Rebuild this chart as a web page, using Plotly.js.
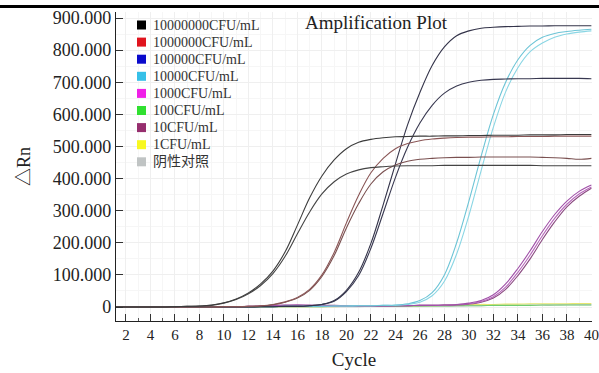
<!DOCTYPE html>
<html>
<head>
<meta charset="utf-8">
<script src="https://cdn.plot.ly/plotly-3.0.1.min.js"></script>
<style>html,body{margin:0;padding:0;background:#fff;}#chart{width:599px;height:373px;}</style>
</head>
<body>
<div id="chart"></div>
<script>
// ---- data ----
const cycles = [1,2,3,4,5,6,7,8,9,10,11,12,13,14,15,16,17,18,19,20,21,22,23,24,25,26,27,28,29,30,31,32,33,34,35,36,37,38,39,40];

const legendLabels = ["10000000CFU/mL","1000000CFU/mL","100000CFU/mL","10000CFU/mL","1000CFU/mL","100CFU/mL","10CFU/mL","1CFU/mL","阴性对照"];
const legendColors = ["#000000","#e0141e","#0a0acc","#36c0e8","#f020e8","#30e030","#962e6e","#f8f820","#c0c4c4"];

const black1 = [0,0,0,0,0,1,2,3, 6,13,25,44,72,112,172,255, 340,408,458,493,513,522,527,530, 531,532,532,533,533,534,534,535, 535,535,536,536,536,537,537,537];
const black2 = [0,0,0,0,0,1,2,3, 5,12,23,41,67,104,158,228, 296,352,390,414,427,434,437,439, 440,440,440,441,441,441,441,441, 441,441,441,440,440,440,440,440];
const red1   = [0,0,0,0,0,0,0,0, 0,1,1,2,4,8,16,30, 55,100,170,262,348,418,463,493, 509,518,523,526,528,529,529,530, 530,531,531,531,532,532,532,532];
const red2   = [0,0,0,0,0,0,0,0, 0,1,1,2,3,7,15,28, 52,95,160,246,322,383,421,442, 454,460,463,465,466,466,467,467, 467,467,467,466,465,463,460,463];
const blue1  = [0,0,0,0,0,0,0,0, 0,0,0,0,1,1,2,2, 4,8,20,52,108,198,318,445, 568,668,752,810,845,860,868,871, 873,874,875,875,876,876,876,876];
const blue2  = [0,0,0,0,0,0,0,0, 0,0,0,0,1,1,2,2, 4,8,18,48,98,183,292,403, 498,573,628,666,688,700,706,709, 710,711,711,712,712,712,712,711];
const cyan1  = [0,0,0,0,0,0,0,0, 0,0,1,1,1,1,2,2, 2,2,3,3,4,4,5,6, 10,20,45,100,200,330,470,600, 700,770,815,840,852,858,862,865];
const cyan2  = [0,0,0,0,0,0,0,0, 0,0,1,1,1,1,2,2, 2,2,3,3,4,4,5,5, 8,15,35,80,165,285,425,560, 670,745,795,822,840,850,856,860];
const mag1   = [0,0,0,0,0,0,0,0, 0,1,1,2,3,5,6,6, 5,4,3,3,3,3,3,4, 4,5,5,6,8,12,20,38, 72,120,175,235,288,330,360,380];
const mag2   = [0,0,0,0,0,0,0,0, 0,1,1,2,3,4,5,6, 5,4,3,3,3,3,3,4, 4,5,5,6,7,10,17,32, 62,108,162,222,276,320,352,374];
const purple1= [0,0,0,0,0,0,0,0, 0,0,1,1,2,3,4,5, 5,5,5,4,4,4,4,4, 4,5,5,6,6,9,15,28, 55,98,150,210,265,312,345,370];
const green1 = [0,0,0,0,0,0,0,0, 0,0,0,0,1,1,1,1, 1,1,2,2,2,2,2,2, 3,3,3,3,4,4,4,5, 5,5,5,6,6,6,6,6];
const yellow1= [0,0,0,0,0,0,0,0, 0,0,0,0,0,1,1,1, 1,1,1,2,2,2,2,3, 3,4,4,5,6,7,8,8, 9,9,10,10,10,10,11,11];
const gray1  = [0,0,0,0,0,0,0,0, 0,0,0,0,0,0,1,1, 1,1,1,1,1,2,2,2, 2,2,3,3,3,4,4,5, 5,5,6,6,6,7,7,7];

const yTickVals = [0,100,200,300,400,500,600,700,800,900];
const yTickText = ["0","100.000","200.000","300.000","400.000","500.000","600.000","700.000","800.000","900.000"];
const xTickVals = [2,4,6,8,10,12,14,16,18,20,22,24,26,28,30,32,34,36,38,40];

// ---- traces ----
const series = [
  {y: gray1,   c: "#b8c0c0"},
  {y: yellow1, c: "#e6e670"},
  {y: green1,  c: "#70cc70"},
  {y: purple1, c: "#8a4a80"},
  {y: mag2,    c: "#b868bc"},
  {y: mag1,    c: "#a050a8"},
  {y: cyan2,   c: "#8ad6e4"},
  {y: cyan1,   c: "#6cc4d6"},
  {y: blue2,   c: "#383850"},
  {y: blue1,   c: "#34344a"},
  {y: red2,    c: "#7a5050"},
  {y: red1,    c: "#8a5656"},
  {y: black2,  c: "#444444"},
  {y: black1,  c: "#3c3c3c"}
];
const traces = series.map(s => ({
  x: cycles, y: s.y, type: "scatter", mode: "lines",
  line: {color: s.c, width: 1.1, shape: "spline", smoothing: 1},
  showlegend: false, hoverinfo: "skip"
}));

// ---- layout helpers (pixel -> paper) ----
const W = 599, H = 373, ML = 116, MR = 7, MT = 12, MB = 52;
const PW = W - ML - MR, PH = H - MT - MB;
const px = x => (x - ML) / PW;
const py = y => 1 - (y - MT) / PH;

const FONT = "'Liberation Serif', 'Times New Roman', 'Noto Sans CJK SC', serif";
const shapes = [
  {type: "line", xref: "paper", yref: "paper", x0: px(0), x1: px(W), y0: py(6.5), y1: py(6.5), line: {color: "#000", width: 3}}
];
const annotations = [];
legendLabels.forEach((lab, k) => {
  const cy = 25 + 17.1 * k;
  shapes.push({type: "rect", xref: "paper", yref: "paper",
    x0: px(137), x1: px(146), y0: py(cy + 4.5), y1: py(cy - 4.5),
    fillcolor: legendColors[k], line: {width: 0}});
  annotations.push({xref: "paper", yref: "paper", x: px(151), y: py(cy),
    xanchor: "left", yanchor: "middle", showarrow: false, text: lab,
    font: {family: FONT, size: 14, color: "#333"}});
});

const layout = {
  width: W, height: H,
  margin: {l: ML, r: MR, t: MT, b: MB, pad: 0},
  paper_bgcolor: "#fff", plot_bgcolor: "#fff",
  font: {family: FONT, color: "#222"},
  title: {text: "Amplification Plot", font: {family: FONT, size: 19, color: "#222"},
    xref: "paper", x: px(305), xanchor: "left", yref: "container", y: 1 - 22 / H, yanchor: "middle"},
  xaxis: {
    range: [1.19, 40.05], tickvals: xTickVals, ticks: "inside", ticklen: 7, tickcolor: "#333",
    showline: true, linecolor: "#222", linewidth: 1.2, mirror: false,
    showgrid: true, gridcolor: "#efefef", gridwidth: 1, zeroline: false,
    tickfont: {family: FONT, size: 15, color: "#222"},
    minor: {ticks: "inside", ticklen: 3, dtick: 1, tickcolor: "#555", showgrid: true, gridcolor: "#f6f6f6"},
    title: {text: "Cycle", font: {family: FONT, size: 19, color: "#222"}, standoff: 10},
    fixedrange: true
  },
  yaxis: {
    range: [-43.6, 918.7], tickvals: yTickVals, ticktext: yTickText, ticks: "inside", ticklen: 7, tickcolor: "#333",
    showline: true, linecolor: "#222", linewidth: 1.2,
    showgrid: true, gridcolor: "#efefef", zeroline: false,
    tickfont: {family: FONT, size: 18, color: "#222"},
    minor: {dtick: 50, showgrid: true, gridcolor: "#f6f6f6"},
    title: {text: "△Rn", font: {family: FONT, size: 18, color: "#222"}, standoff: 17},
    fixedrange: true
  },
  shapes: shapes,
  annotations: annotations,
  showlegend: false
};

Plotly.newPlot("chart", traces, layout, {displayModeBar: false, staticPlot: true});
</script>
</body>
</html>
